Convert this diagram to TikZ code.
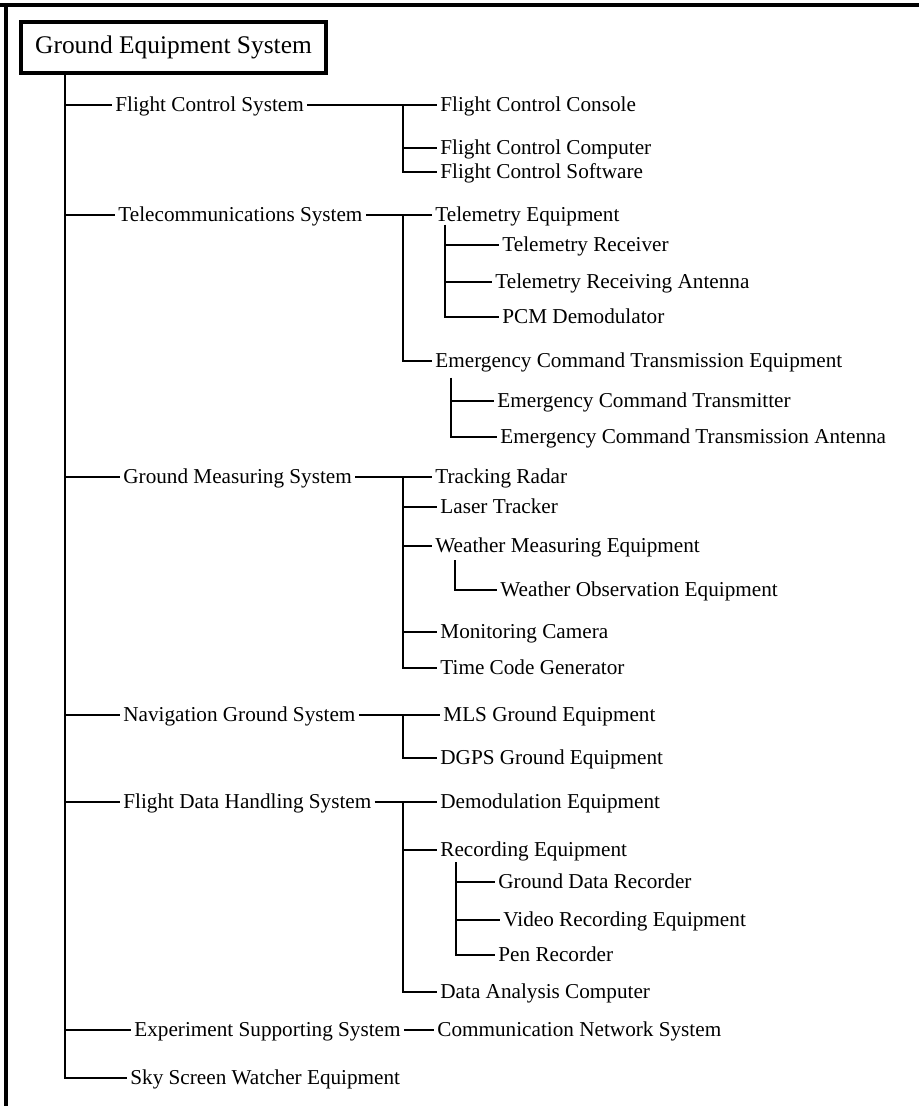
\documentclass[tikz,border=0pt]{standalone}
\usepackage{fontspec}
\setmainfont{Liberation Serif}
\usetikzlibrary{positioning}

\tikzset{
  leaf/.style={anchor=west, inner xsep=1.5pt, inner ysep=0pt, text height=0.68em, text depth=0pt, font=\fontsize{10.6}{12}\selectfont},
  rootbox/.style={draw, line width=1.7pt, minimum width=152.5pt, minimum height=25.5pt, inner sep=0pt, font=\fontsize{12.7}{14}\selectfont},
  branch/.style={line width=1.4pt}
}

\begin{document}
\begin{tikzpicture}[x=0.5pt,y=-0.5pt]
\useasboundingbox (0,0) rectangle (919,1106);
\draw[line width=1.7pt] (0,5) -- (919,5);
\draw[line width=1.7pt] (6,5) -- (6,1106);

\node[rootbox] (root) at (173.5,47.5) {Ground Equipment System};
\coordinate (t0) at (65,73);

\node[leaf] (fcs) at (112,105) {Flight Control System};
\node[leaf] (tcs) at (115,215) {Telecommunications System};
\node[leaf] (gms) at (120,477) {Ground Measuring System};
\node[leaf] (ngs) at (120,715) {Navigation Ground System};
\node[leaf] (fdh) at (120,802) {Flight Data Handling System};
\node[leaf] (ess) at (131,1030) {Experiment Supporting System};
\node[leaf] (ssw) at (127,1078) {Sky Screen Watcher Equipment};

\node[leaf] (fcc) at (437,105) {Flight Control Console};
\node[leaf] (fcp) at (437,148) {Flight Control Computer};
\node[leaf] (fsw) at (437,172) {Flight Control Software};

\node[leaf] (teq) at (432,215) {Telemetry Equipment};
\node[leaf] (trx) at (499,245) {Telemetry Receiver};
\node[leaf] (tra) at (492,282) {Telemetry Receiving Antenna};
\node[leaf] (pcm) at (499,317) {PCM Demodulator};
\node[leaf] (ece) at (432,361) {Emergency Command Transmission Equipment};
\node[leaf] (ect) at (494,401) {Emergency Command Transmitter};
\node[leaf] (eca) at (497,437) {Emergency Command Transmission Antenna};

\node[leaf] (trd) at (432,477) {Tracking Radar};
\node[leaf] (ltr) at (437,507) {Laser Tracker};
\node[leaf] (wme) at (432,546) {Weather Measuring Equipment};
\node[leaf] (woe) at (497,590) {Weather Observation Equipment};
\node[leaf] (mcam) at (437,632) {Monitoring Camera};
\node[leaf] (tcg) at (437,668) {Time Code Generator};

\node[leaf] (mls) at (440,715) {MLS Ground Equipment};
\node[leaf] (dgps) at (437,758) {DGPS Ground Equipment};

\node[leaf] (dem) at (437,802) {Demodulation Equipment};
\node[leaf] (rec) at (437,850) {Recording Equipment};
\node[leaf] (gdr) at (495,882) {Ground Data Recorder};
\node[leaf] (vre) at (500,920) {Video Recording Equipment};
\node[leaf] (pen) at (495,955) {Pen Recorder};
\node[leaf] (dac) at (437,992) {Data Analysis Computer};

\node[leaf] (cns) at (434,1030) {Communication Network System};

\coordinate (t1) at (403,105);
\coordinate (t2) at (403,215);
\coordinate (t2a) at (445,225);
\coordinate (t2b) at (451,378);
\coordinate (t3) at (403,477);
\coordinate (t3a) at (455,560);
\coordinate (t4) at (403,715);
\coordinate (t5) at (403,802);
\coordinate (t5a) at (456,862);

\draw[branch] (t0) |- (fcs.west);
\draw[branch] (t0) |- (tcs.west);
\draw[branch] (t0) |- (gms.west);
\draw[branch] (t0) |- (ngs.west);
\draw[branch] (t0) |- (fdh.west);
\draw[branch] (t0) |- (ess.west);
\draw[branch] (t0) |- (ssw.west);

\draw[branch] (fcs.east) -- (fcc.west);
\draw[branch] (t1) |- (fcp.west);
\draw[branch] (t1) |- (fsw.west);

\draw[branch] (tcs.east) -- (teq.west);
\draw[branch] (t2) |- (ece.west);
\draw[branch] (t2a) |- (trx.west);
\draw[branch] (t2a) |- (tra.west);
\draw[branch] (t2a) |- (pcm.west);
\draw[branch] (t2b) |- (ect.west);
\draw[branch] (t2b) |- (eca.west);

\draw[branch] (gms.east) -- (trd.west);
\draw[branch] (t3) |- (ltr.west);
\draw[branch] (t3) |- (wme.west);
\draw[branch] (t3) |- (mcam.west);
\draw[branch] (t3) |- (tcg.west);
\draw[branch] (t3a) |- (woe.west);

\draw[branch] (ngs.east) -- (mls.west);
\draw[branch] (t4) |- (dgps.west);

\draw[branch] (fdh.east) -- (dem.west);
\draw[branch] (t5) |- (rec.west);
\draw[branch] (t5) |- (dac.west);
\draw[branch] (t5a) |- (gdr.west);
\draw[branch] (t5a) |- (vre.west);
\draw[branch] (t5a) |- (pen.west);

\draw[branch] (ess.east) -- (cns.west);
\end{tikzpicture}
\end{document}
